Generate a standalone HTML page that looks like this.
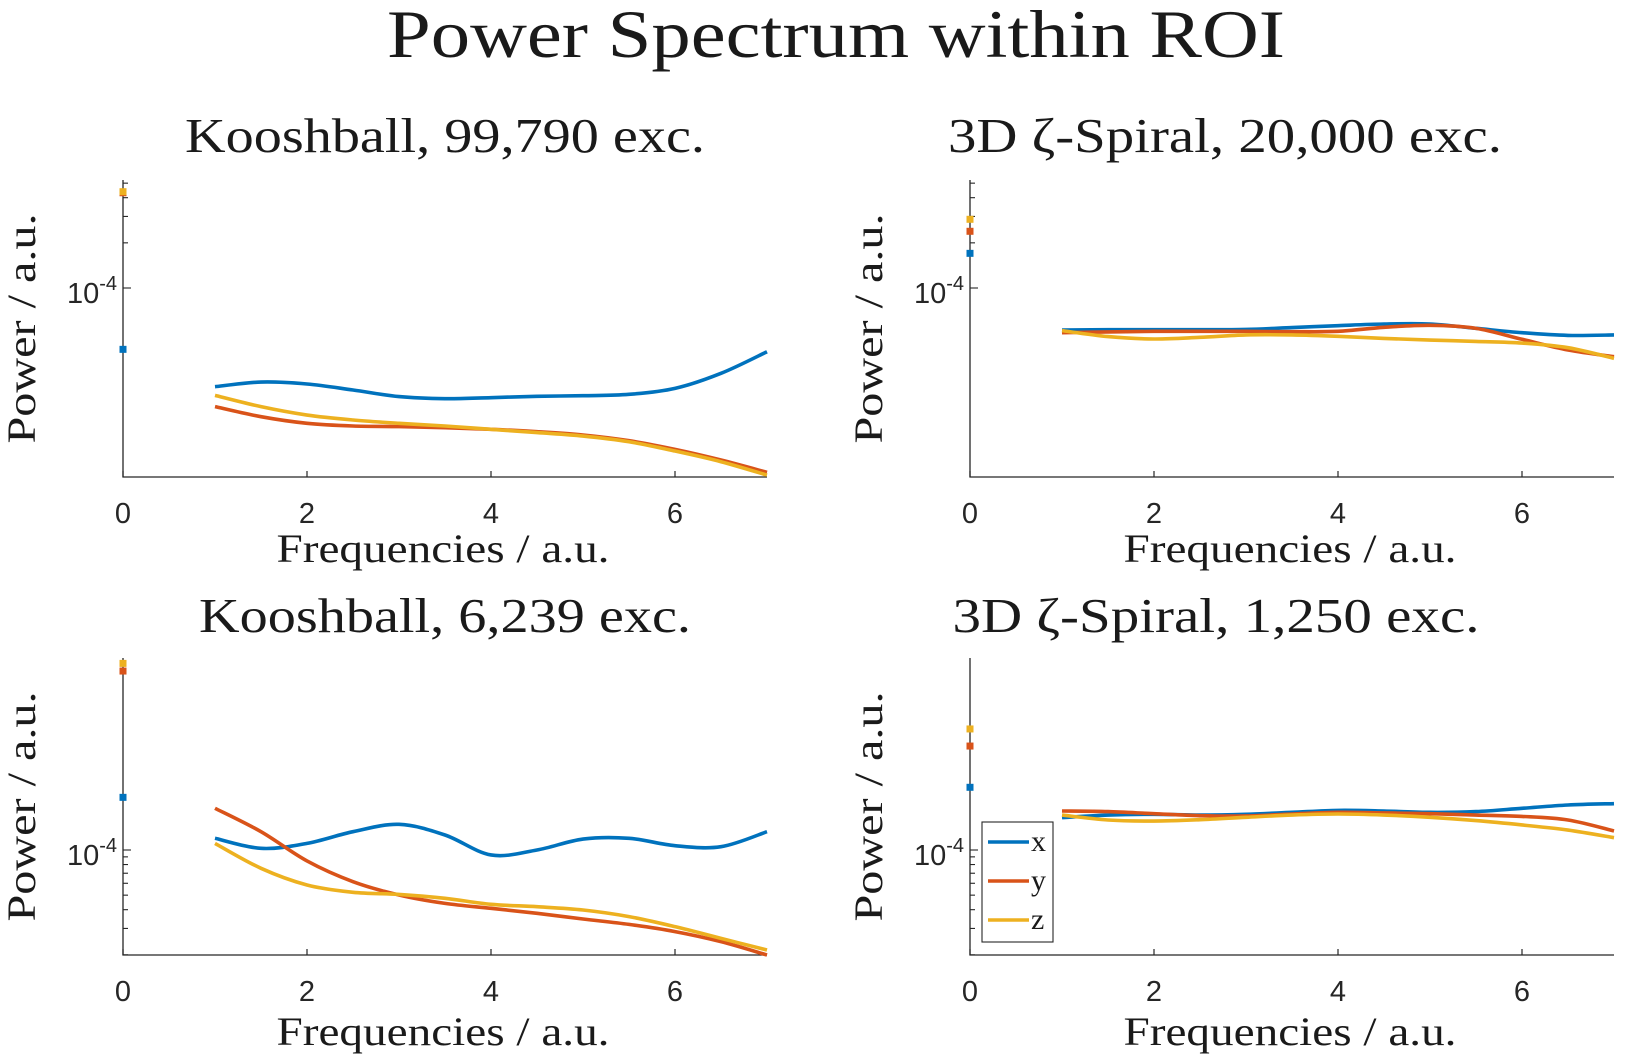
<!DOCTYPE html>
<html><head><meta charset="utf-8"><style>
html,body{margin:0;padding:0;background:#fff}
svg{display:block}
.serif{font-family:"Liberation Serif",serif;fill:#1a1a1a}
.sans{font-family:"Liberation Sans",sans-serif;fill:#262626}
</style></head><body>
<svg id="fig" width="1634" height="1059" viewBox="0 0 1634 1059" xmlns="http://www.w3.org/2000/svg">
<text class="serif" x="836" y="57" font-size="68" text-anchor="middle" textLength="898" lengthAdjust="spacingAndGlyphs">Power Spectrum within ROI</text>
</svg>
<script>
// x positions (frequencies) for curves
const freqs = [1,1.5,2,2.5,3,3.5,4,4.5,5,5.5,6,6.5,7];
const xTicks = [0,2,4,6];
const seriesNames = ['x','y','z'];
const colors = ['#0072BD','#D95319','#EDB120'];
// log10(power) values
const tlX = [-4.658,-4.627,-4.640,-4.680,-4.724,-4.738,-4.731,-4.722,-4.718,-4.709,-4.669,-4.569,-4.425];
const tlY = [-4.791,-4.858,-4.902,-4.920,-4.924,-4.931,-4.942,-4.958,-4.980,-5.018,-5.076,-5.147,-5.229];
const tlZ = [-4.716,-4.791,-4.847,-4.880,-4.902,-4.920,-4.942,-4.964,-4.987,-5.025,-5.087,-5.158,-5.247];
const tlDC = [-4.409,-3.365,-3.358];
const trX = [-4.280,-4.278,-4.278,-4.278,-4.276,-4.264,-4.251,-4.240,-4.240,-4.269,-4.298,-4.316,-4.313];
const trY = [-4.298,-4.293,-4.289,-4.289,-4.289,-4.291,-4.289,-4.262,-4.249,-4.269,-4.342,-4.413,-4.458];
const trZ = [-4.284,-4.324,-4.340,-4.329,-4.313,-4.313,-4.322,-4.336,-4.347,-4.356,-4.367,-4.398,-4.469];
const trDC = [-3.769,-3.622,-3.542];
const blX = [-3.922,-3.989,-3.956,-3.878,-3.829,-3.900,-4.033,-4.000,-3.927,-3.922,-3.971,-3.978,-3.878];
const blY = [-3.722,-3.878,-4.073,-4.211,-4.300,-4.356,-4.389,-4.422,-4.460,-4.496,-4.544,-4.611,-4.700];
const blZ = [-3.956,-4.122,-4.233,-4.282,-4.296,-4.322,-4.362,-4.378,-4.400,-4.444,-4.511,-4.589,-4.667];
const blDC = [-3.649,-2.807,-2.756];
const brX = [-3.784,-3.767,-3.762,-3.767,-3.762,-3.749,-3.736,-3.740,-3.749,-3.744,-3.722,-3.700,-3.691];
const brY = [-3.740,-3.744,-3.758,-3.771,-3.773,-3.760,-3.749,-3.753,-3.758,-3.767,-3.776,-3.800,-3.873];
const brZ = [-3.767,-3.800,-3.807,-3.798,-3.782,-3.767,-3.760,-3.767,-3.782,-3.804,-3.833,-3.867,-3.918];
const brDC = [-3.582,-3.307,-3.193];
const titles = ['Kooshball, 99,790 exc.','3D \u03B6-Spiral, 20,000 exc.','Kooshball, 6,239 exc.','3D \u03B6-Spiral, 1,250 exc.'];

const NS='http://www.w3.org/2000/svg';
const svg=document.getElementById('fig');
function mk(tag,attrs,parent){const e=document.createElementNS(NS,tag);for(const k in attrs)e.setAttribute(k,attrs[k]);(parent||svg).appendChild(e);return e;}
function path(pts){let d='M'+pts[0][0]+','+pts[0][1];for(let i=0;i<pts.length-1;i++){const p0=pts[Math.max(0,i-1)],p1=pts[i],p2=pts[i+1],p3=pts[Math.min(pts.length-1,i+2)];
d+=' C'+(p1[0]+(p2[0]-p0[0])/6)+','+(p1[1]+(p2[1]-p0[1])/6)+' '+(p2[0]-(p3[0]-p1[0])/6)+','+(p2[1]-(p3[1]-p1[1])/6)+' '+p2[0]+','+p2[1];}return d;}

const panels=[
 {x0:123,top:180,bot:477,ymin:-5.26,ymax:-3.28,minorDec:-4,data:[tlX,tlY,tlZ],dc:tlDC,title:titles[0],tw:520,tx:445,ty:152,xl:562,name:'kooshball-99790'},
 {x0:970,top:180,bot:477,ymin:-5.26,ymax:-3.28,minorDec:-4,data:[trX,trY,trZ],dc:trDC,title:titles[1],tw:554,tx:1225,ty:152,xl:562,name:'spiral-20000'},
 {x0:123,top:658,bot:955,ymin:-4.70,ymax:-2.72,minorDec:-5,data:[blX,blY,blZ],dc:blDC,title:titles[2],tw:492,tx:445,ty:632,xl:1045,name:'kooshball-6239'},
 {x0:970,top:658,bot:955,ymin:-4.70,ymax:-2.72,minorDec:-5,data:[brX,brY,brZ],dc:brDC,title:titles[3],tw:527,tx:1216,ty:632,xl:1045,name:'spiral-1250',legend:true}
];
const unit=92;
panels.forEach(p=>{
 const g=mk('g',{});
 
 
 const X=v=>p.x0+v*unit;
 const Y=v=>p.bot-(v-p.ymin)/(p.ymax-p.ymin)*(p.bot-p.top);
 const cx=p.x0+3.5*unit;
 const t=mk('text',{class:'serif',x:p.tx,y:p.ty,'font-size':49,'text-anchor':'middle',textLength:p.tw,lengthAdjust:'spacingAndGlyphs'},g);t.textContent=p.title;
 
 
 const ax=mk('path',{d:'M'+p.x0+','+p.top+' V'+p.bot+' H'+X(7),stroke:'#262626','stroke-width':1.3,fill:'none'},g);
 
 
 xTicks.forEach(v=>{
  mk('line',{x1:X(v),x2:X(v),y1:p.bot,y2:p.bot-6,stroke:'#262626','stroke-width':1.2},g);
  const tl=mk('text',{class:'sans',x:X(v),y:p.bot+46,'font-size':29,'text-anchor':'middle'},g);tl.textContent=v;
  
  
 });
 const lv4=-4;
 mk('line',{x1:p.x0,x2:p.x0+8,y1:Y(lv4),y2:Y(lv4),stroke:'#262626','stroke-width':1.1},g);
 const tl=mk('text',{class:'sans',x:p.x0-6,y:Y(lv4)+15,'font-size':29,'text-anchor':'end'},g);
 tl.innerHTML='10<tspan dy="-13" font-size="20">-4</tspan>';
 
 
 for(let m=2;m<=9;m++){const lv=p.minorDec+Math.log10(m);if(lv<p.ymin||lv>p.ymax)continue;
  mk('line',{x1:p.x0,x2:p.x0+5,y1:Y(lv),y2:Y(lv),stroke:'#262626','stroke-width':1.1},g);}
 p.data.forEach((arr,i)=>{
  const pts=freqs.map((f,j)=>[X(f),Y(arr[j])]);
  const c=mk('path',{d:path(pts),stroke:colors[i],'stroke-width':3.6,fill:'none'},g);
  
  
 });
 p.dc.forEach((v,i)=>{
  const r=mk('rect',{x:X(0)-3.5,y:Y(v)-3.5,width:7,height:7,fill:colors[i]},g);
  
  
 });
 const xl=mk('text',{class:'serif',x:cx-2,y:p.xl,'font-size':40,'text-anchor':'middle',textLength:333,lengthAdjust:'spacingAndGlyphs'},g);xl.textContent='Frequencies / a.u.';
 
 
 const ym=(p.top+p.bot)/2;
 const yl=mk('text',{class:'serif',x:0,y:0,'font-size':40,'text-anchor':'middle',textLength:230,lengthAdjust:'spacingAndGlyphs',transform:'translate('+(p.x0-88)+','+ym+') rotate(-90)'},g);yl.textContent='Power / a.u.';
 
 
 if(p.legend){
  const lg=mk('g',{},g);
  
  
  mk('rect',{x:982,y:822,width:71,height:120,fill:'#fff',stroke:'#262626','stroke-width':1.1},lg);
  seriesNames.forEach((n,i)=>{
   const yy=842+i*39;
   const e=mk('g',{},lg);
   
   
   mk('line',{x1:988,x2:1029,y1:yy,y2:yy,stroke:colors[i],'stroke-width':3.6},e);
   const tx=mk('text',{class:'serif',x:1031,y:yy+9,'font-size':30},e);tx.textContent=n;
  });
 }
});
</script>
</body></html>
